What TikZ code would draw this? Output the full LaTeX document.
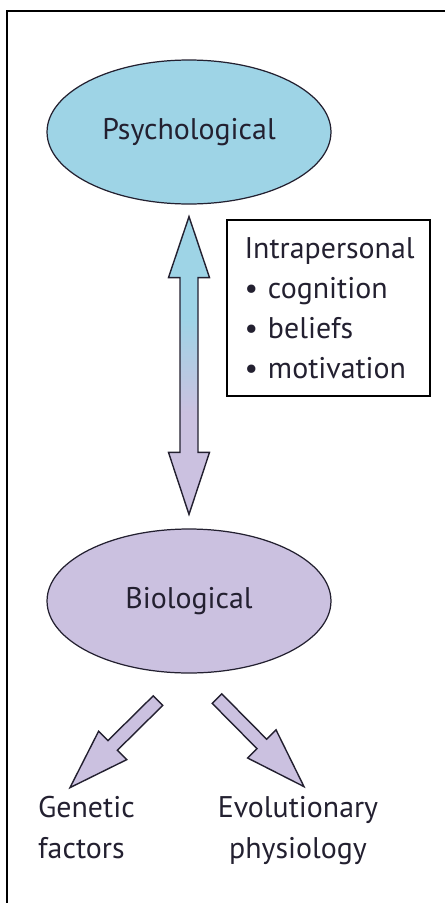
\documentclass[tikz,border=0pt]{standalone}
\usepackage{fontspec}
\setmainfont{PT Sans}
\usetikzlibrary{shapes.geometric,calc,positioning}

\definecolor{psyblue}{RGB}{158,212,230}
\definecolor{biopurple}{RGB}{203,193,224}
\definecolor{inkdark}{RGB}{35,32,48}

\pgfdeclareverticalshading{psybio}{100bp}{color(0bp)=(biopurple); color(42bp)=(biopurple); color(58bp)=(psyblue); color(100bp)=(psyblue)}

\tikzset{
  blob/.style={ellipse, draw=inkdark, line width=0.7pt, minimum width=5.68cm, minimum height=2.88cm},
  infobox/.style={draw=black, line width=1.2pt, align=left, text width=3.36cm, inner xsep=0.35cm, minimum height=3.52cm},
  fatarrow/.style={draw=inkdark, fill=biopurple, line width=0.8pt, line join=miter}
}

\begin{document}
\begin{tikzpicture}[x=0.02cm,y=-0.02cm,every node/.style={font=\fontsize{17}{22.8}\selectfont,text=inkdark}]
  \useasboundingbox (0,0) rectangle (445,903);
  % outer frame
  \draw[line width=1.2pt] (445,11) -- (7,11) -- (7,903);
  % the two levels
  \node[blob,fill=psyblue] (psych) at (189,132) {Psychological};
  \node[blob,fill=biopurple] (bio) at (189,601) {Biological};
  % side box
  \node[infobox,anchor=north west] (intra) at (226,219) {Intrapersonal\\\textbullet\ cognition\\\textbullet\ beliefs\\\textbullet\ motivation};
  % outcomes
  \node[anchor=base west,align=left] (genetic) at (32,858) {Genetic\\factors};
  \node[anchor=base,align=center] (evol) at (298,858) {Evolutionary\\physiology};
  % double arrow between the levels
  \coordinate (up) at ($(psych.south)+(0,12)$);
  \coordinate (down) at ($(bio.north)+(0,-14)$);
  \shade[shading=psybio,draw=inkdark,line width=0.8pt,line join=miter]
    (up) -- ++(20.5,61) -- ++(-11.5,0) -- ($(down)+(9,-62)$) -- ++(11.5,0)
    -- (down) -- ++(-20.5,-62) -- ++(11.5,0) -- ($(up)+(-9,61)$) -- ++(-11.5,0) -- cycle;
  % branch to genetic factors
  \coordinate (gtail) at ($(bio.south)+(-31,27)$);
  \coordinate (gtip) at ($(bio.south)+(-119,114)$);
  \coordinate (gbase) at ($(gtip)!1.2cm!(gtail)$);
  \draw[fatarrow] ($(gtail)!0.135cm!90:(gtip)$) -- ($(gbase)!0.135cm!90:(gtip)$)
    -- ($(gbase)!0.4cm!90:(gtip)$) -- (gtip) -- ($(gbase)!0.4cm!-90:(gtip)$)
    -- ($(gbase)!0.135cm!-90:(gtip)$) -- ($(gtail)!0.135cm!-90:(gtip)$) -- cycle;
  % branch to evolutionary physiology
  \coordinate (etail) at ($(bio.south)+(28,25)$);
  \coordinate (etip) at ($(bio.south)+(115,113)$);
  \coordinate (ebase) at ($(etip)!1.2cm!(etail)$);
  \draw[fatarrow] ($(etail)!0.135cm!90:(etip)$) -- ($(ebase)!0.135cm!90:(etip)$)
    -- ($(ebase)!0.4cm!90:(etip)$) -- (etip) -- ($(ebase)!0.4cm!-90:(etip)$)
    -- ($(ebase)!0.135cm!-90:(etip)$) -- ($(etail)!0.135cm!-90:(etip)$) -- cycle;
\end{tikzpicture}
\end{document}
